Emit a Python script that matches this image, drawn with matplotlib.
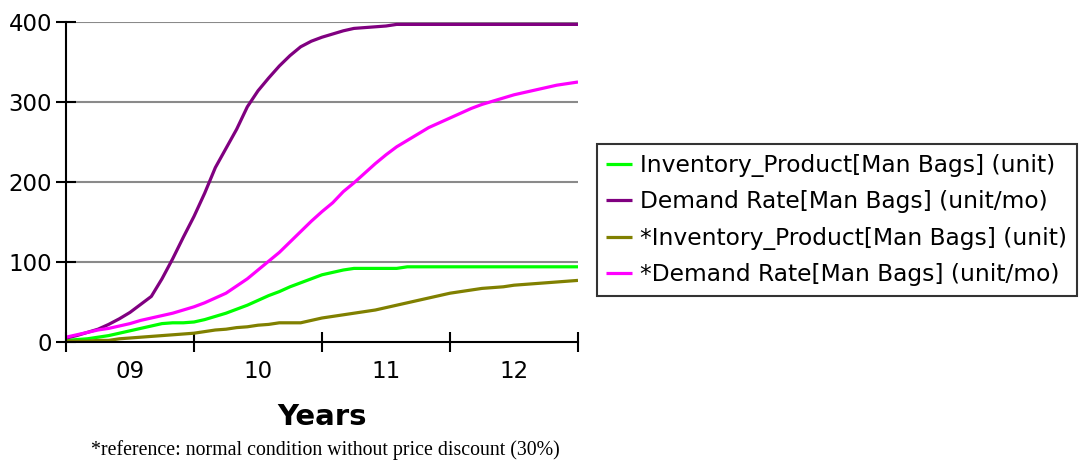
import matplotlib
matplotlib.use("Agg")
import matplotlib.pyplot as plt
import numpy as np

# Months since start of 2009 (0..48)
months = list(range(49))

inventory = [2, 3, 4, 6, 8, 11, 14, 17, 20, 23, 24, 24, 25, 28, 32, 36, 41, 46, 52, 58,
             63, 69, 74, 79, 84, 87, 90, 92, 92, 92, 92, 92, 94, 94, 94, 94, 94, 94, 94, 94,
             94, 94, 94, 94, 94, 94, 94, 94, 94]
demand = [5, 8, 12, 16, 22, 29, 37, 47, 57, 79, 104, 131, 157, 186, 218, 242, 266, 294, 314, 330,
          345, 358, 369, 376, 381, 385, 389, 392, 393, 394, 395, 397, 397, 397, 397, 397, 397, 397, 397, 397,
          397, 397, 397, 397, 397, 397, 397, 397, 397]
ref_inventory = [1, 1, 1, 2, 2, 4, 5, 6, 7, 8, 9, 10, 11, 13, 15, 16, 18, 19, 21, 22,
                 24, 24, 24, 27, 30, 32, 34, 36, 38, 40, 43, 46, 49, 52, 55, 58, 61, 63, 65, 67,
                 68, 69, 71, 72, 73, 74, 75, 76, 77]
ref_demand = [6, 9, 12, 15, 17, 20, 23, 27, 30, 33, 36, 40, 44, 49, 55, 61, 70, 79, 90, 101,
              112, 125, 138, 151, 163, 174, 188, 199, 211, 223, 234, 244, 252, 260, 268, 274, 280, 286, 292, 297,
              301, 305, 309, 312, 315, 318, 321, 323, 325]

year_labels = ["09", "10", "11", "12"]
series_labels = ["Inventory_Product[Man Bags] (unit)",
                 "Demand Rate[Man Bags] (unit/mo)",
                 "*Inventory_Product[Man Bags] (unit)",
                 "*Demand Rate[Man Bags] (unit/mo)"]
colors = ["#00FF00", "#800080", "#808000", "#FF00FF"]

W, H = 1082, 462
fig = plt.figure(figsize=(W / 100, H / 100), dpi=100)
ax = fig.add_axes([66 / W, 1 - 342 / H, (578 - 66) / W, (342 - 22) / H])

series = [inventory, demand, ref_inventory, ref_demand]
handles = []
for vals, lab, col in zip(series, series_labels, colors):
    h, = ax.plot(months, vals, color=col, lw=2.3, label=lab, solid_capstyle="butt", zorder=3)
    handles.append(h)

ax.set_xlim(0, 48)
ax.set_ylim(0, 400)
ax.set_yticks([0, 100, 200, 300, 400])
ax.set_xticks([0, 12, 24, 36, 48])
ax.set_xticklabels([])
ax.set_xticks([6, 18, 30, 42], minor=True)
ax.set_xticklabels(year_labels, minor=True)
ax.tick_params(axis="x", which="major", direction="inout", length=14, width=1.5, color="black")
ax.tick_params(axis="x", which="minor", length=0, pad=13, labelsize=16.5)
ax.tick_params(axis="y", direction="inout", length=14, width=1.5, labelsize=16.5, pad=3)

for y in [100, 200, 300, 400]:
    ax.axhline(y, color="#8a8a8a", lw=1.5, zorder=1)

for s in ["top", "right"]:
    ax.spines[s].set_visible(False)
for s in ["left", "bottom"]:
    ax.spines[s].set_linewidth(1.5)
    ax.spines[s].set_zorder(4)

fig.text(322 / W, 1 - 417 / H, "Years", ha="center", va="center", fontsize=21, fontweight="bold")
fig.text(325 / W, 1 - 450 / H, "*reference: normal condition without price discount (30%)",
         ha="center", va="center", fontsize=14.3, family="Liberation Serif")

leg = fig.legend(handles=handles, labels=series_labels, loc="center left",
                 bbox_to_anchor=(597 / W, 1 - 220 / H), fontsize=16.8,
                 handlelength=1.1, handletextpad=0.35, labelspacing=0.58,
                 borderpad=0.4, borderaxespad=0, fancybox=False, frameon=True)
leg.get_frame().set_edgecolor("black")
leg.get_frame().set_linewidth(1.5)

fig.savefig("out.png", dpi=100)
